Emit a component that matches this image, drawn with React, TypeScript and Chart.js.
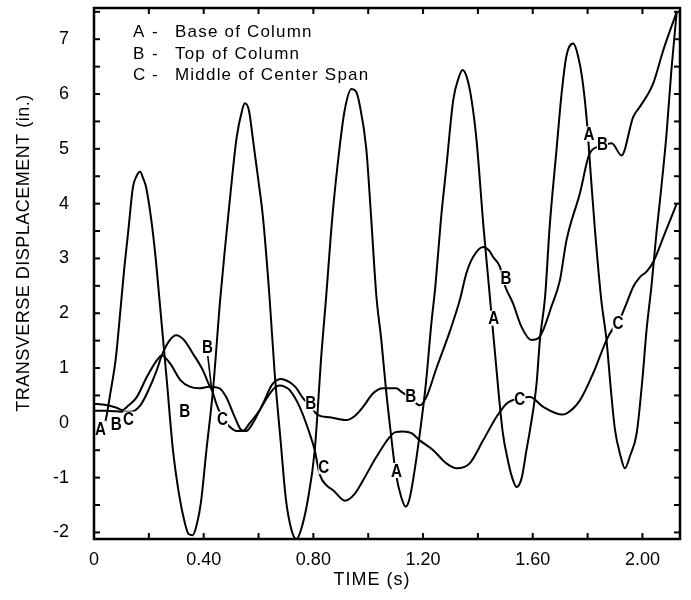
import React, { useEffect, useRef } from "react";
import { Chart, registerables } from "chart.js";

Chart.register(...registerables);

// ---- Data (time in s, displacement in in.) ----
const A_TIME = [0, 0.02, 0.04, 0.06, 0.08, 0.093, 0.11, 0.125, 0.142, 0.155, 0.168, 0.18, 0.19, 0.209, 0.225, 0.245, 0.265, 0.288, 0.31, 0.33, 0.345, 0.36, 0.375, 0.39, 0.41, 0.434, 0.46, 0.48, 0.5, 0.52, 0.54, 0.55, 0.565, 0.58, 0.6, 0.616, 0.64, 0.659, 0.68, 0.7, 0.72, 0.738, 0.755, 0.78, 0.805, 0.83, 0.845, 0.87, 0.896, 0.914, 0.939, 0.955, 0.969, 0.993, 1.01, 1.03, 1.048, 1.065, 1.085, 1.1, 1.12, 1.137, 1.15, 1.165, 1.188, 1.21, 1.23, 1.245, 1.265, 1.285, 1.31, 1.33, 1.344, 1.36, 1.377, 1.395, 1.42, 1.44, 1.46, 1.49, 1.51, 1.525, 1.541, 1.56, 1.577, 1.59, 1.614, 1.626, 1.645, 1.662, 1.687, 1.705, 1.723, 1.748, 1.765, 1.78, 1.796, 1.812, 1.827, 1.85, 1.869, 1.885, 1.9, 1.92, 1.936, 1.955, 1.979, 2.0, 2.015, 2.033, 2.052, 2.064, 2.088, 2.105, 2.125];
const A_DISP = [-0.05, -0.1, 0.0, 0.55, 1.2, 1.87, 2.8, 3.5, 4.3, 4.5, 4.58, 4.45, 4.3, 3.7, 3.0, 1.9, 0.8, -0.5, -1.3, -1.8, -2.03, -2.05, -1.85, -1.45, -0.5, 0.6, 2.24, 3.3, 4.3, 5.2, 5.7, 5.83, 5.7, 5.16, 4.4, 3.76, 2.3, 0.9, -0.3, -1.4, -1.95, -2.12, -1.95, -1.4, -0.5, 1.3, 2.2, 3.8, 5.04, 5.7, 6.09, 6.05, 5.8, 5.0, 3.8, 2.3, 1.5, 0.6, -0.3, -0.9, -1.35, -1.53, -1.4, -1.0, -0.2, 0.7, 1.8, 2.5, 3.7, 4.67, 5.89, 6.3, 6.44, 6.3, 5.89, 5.16, 3.6, 2.5, 1.4, -0.15, -0.7, -1.0, -1.17, -1.0, -0.5, -0.13, 0.72, 1.51, 2.3, 3.6, 5.0, 6.0, 6.7, 6.92, 6.7, 6.3, 5.58, 4.5, 3.51, 2.24, 1.51, 0.6, -0.13, -0.6, -0.83, -0.6, -0.19, 0.8, 1.69, 2.5, 3.51, 4.06, 5.28, 6.4, 7.5];

const B_TIME = [0, 0.04, 0.08, 0.104, 0.12, 0.156, 0.193, 0.229, 0.247, 0.278, 0.315, 0.349, 0.385, 0.42, 0.458, 0.482, 0.513, 0.537, 0.555, 0.58, 0.616, 0.65, 0.683, 0.71, 0.735, 0.762, 0.79, 0.817, 0.86, 0.92, 0.95, 0.981, 1.018, 1.054, 1.103, 1.12, 1.155, 1.188, 1.212, 1.249, 1.297, 1.334, 1.358, 1.383, 1.419, 1.44, 1.455, 1.48, 1.498, 1.528, 1.559, 1.595, 1.62, 1.638, 1.668, 1.699, 1.723, 1.772, 1.808, 1.85, 1.888, 1.924, 1.966, 1.991, 2.039, 2.076, 2.125];
const B_DISP = [0.35, 0.33, 0.28, 0.23, 0.29, 0.47, 0.84, 1.14, 1.23, 1.08, 0.78, 0.66, 0.63, 0.66, 0.63, 0.47, 0.11, -0.13, -0.15, 0.0, 0.35, 0.7, 0.8, 0.75, 0.65, 0.45, 0.3, 0.14, 0.1, 0.05, 0.12, 0.29, 0.54, 0.63, 0.63, 0.57, 0.45, 0.32, 0.47, 1.0, 1.66, 2.24, 2.73, 3.03, 3.21, 3.15, 3.03, 2.85, 2.51, 2.18, 1.75, 1.51, 1.54, 1.69, 2.12, 2.6, 3.33, 4.19, 4.92, 5.05, 5.1, 4.88, 5.58, 5.77, 6.19, 6.8, 7.5];

const C_TIME = [0, 0.04, 0.08, 0.104, 0.132, 0.169, 0.199, 0.229, 0.247, 0.275, 0.3, 0.312, 0.33, 0.36, 0.397, 0.42, 0.432, 0.446, 0.47, 0.495, 0.52, 0.543, 0.567, 0.604, 0.63, 0.659, 0.677, 0.695, 0.713, 0.75, 0.786, 0.805, 0.823, 0.85, 0.872, 0.915, 0.95, 0.981, 1.03, 1.078, 1.1, 1.127, 1.158, 1.188, 1.237, 1.285, 1.322, 1.37, 1.419, 1.468, 1.504, 1.53, 1.553, 1.59, 1.638, 1.687, 1.705, 1.723, 1.772, 1.82, 1.869, 1.89, 1.911, 1.942, 1.966, 1.991, 2.015, 2.039, 2.082, 2.125];
const C_DISP = [0.22, 0.22, 0.21, 0.2, 0.2, 0.32, 0.6, 0.96, 1.23, 1.5, 1.6, 1.58, 1.5, 1.27, 0.96, 0.69, 0.57, 0.35, 0.07, -0.07, -0.15, -0.15, -0.01, 0.23, 0.45, 0.64, 0.68, 0.66, 0.6, 0.29, -0.19, -0.5, -0.94, -1.15, -1.23, -1.42, -1.3, -1.05, -0.62, -0.26, -0.17, -0.16, -0.19, -0.32, -0.5, -0.74, -0.83, -0.74, -0.32, 0.11, 0.35, 0.42, 0.45, 0.47, 0.29, 0.17, 0.15, 0.17, 0.41, 0.9, 1.51, 1.7, 1.82, 2.18, 2.48, 2.66, 2.76, 2.93, 3.46, 4.0];

// Curve marker letters placed along the curves
const MARK_TEXT = ["A", "B", "C", "B", "B", "C", "B", "C", "A", "B", "A", "B", "C", "C", "A", "B"];
const MARK_TIME = [0.024, 0.081, 0.126, 0.331, 0.414, 0.469, 0.79, 0.838, 1.103, 1.155, 1.458, 1.502, 1.553, 1.911, 1.805, 1.854];
const MARK_DISP = [-0.1, -0.01, 0.07, 0.22, 1.38, 0.07, 0.36, -0.8, -0.87, 0.49, 1.91, 2.65, 0.43, 1.82, 5.27, 5.1];

// Leader line from the upper "B" marker to its curve
const LEADER_TIME = [0.415, 0.428];
const LEADER_DISP = [1.22, 0.66];

// Axis ticks
const X_LABEL_TICKS = [0, 0.4, 0.8, 1.2, 1.6, 2.0];
const X_MINOR_TICKS = [0, 0.2, 0.4, 0.6, 0.8, 1.0, 1.2, 1.4, 1.6, 1.8, 2.0];
const Y_LABEL_TICKS = [-2, -1, 0, 1, 2, 3, 4, 5, 6, 7];
const Y_MINOR_TICKS = [-2, -1.5, -1, -0.5, 0, 0.5, 1, 1.5, 2, 2.5, 3, 3.5, 4, 4.5, 5, 5.5, 6, 6.5, 7, 7.5];

const LEGEND_KEYS = ["A", "B", "C"];
const LEGEND_TEXT = ["Base of Column", "Top of Column", "Middle of Center Span"];

const X_TITLE = "TIME (s)";
const Y_TITLE = "TRANSVERSE DISPLACEMENT (in.)";

const FONT = "'Liberation Sans', Arial, Helvetica, sans-serif";

function toPoints(t: number[], v: number[]) {
  return t.map((tt, i) => ({ x: tt, y: v[i] }));
}

const overlayPlugin = {
  id: "overlay",
  afterDatasetsDraw(chart: any) {
    const { ctx, chartArea: ca, scales } = chart;
    const x = scales.x;
    const y = scales.y;
    ctx.save();
    ctx.strokeStyle = "#000";
    ctx.lineWidth = 2;
    const seg = (x1: number, y1: number, x2: number, y2: number) => {
      ctx.beginPath();
      ctx.moveTo(x1, y1);
      ctx.lineTo(x2, y2);
      ctx.stroke();
    };
    const TL = 6;
    X_MINOR_TICKS.forEach((v) => {
      const px = x.getPixelForValue(v);
      seg(px, ca.bottom, px, ca.bottom - TL);
      seg(px, ca.top, px, ca.top + TL);
    });
    Y_MINOR_TICKS.forEach((v) => {
      const py = y.getPixelForValue(v);
      seg(ca.left, py, ca.left + TL, py);
      seg(ca.right, py, ca.right - TL, py);
    });

    // leader line
    ctx.lineWidth = 1.6;
    seg(
      x.getPixelForValue(LEADER_TIME[0]),
      y.getPixelForValue(LEADER_DISP[0]),
      x.getPixelForValue(LEADER_TIME[1]),
      y.getPixelForValue(LEADER_DISP[1])
    );

    // curve markers
    MARK_TEXT.forEach((txt, i) => {
      const px = x.getPixelForValue(MARK_TIME[i]);
      const py = y.getPixelForValue(MARK_DISP[i]);
      ctx.fillStyle = "#fff";
      ctx.fillRect(px - 5.5, py - 7.5, 11, 15);
      ctx.save();
      ctx.translate(px, py);
      ctx.scale(0.8, 1);
      ctx.fillStyle = "#000";
      ctx.font = `bold 19px ${FONT}`;
      ctx.textAlign = "center";
      ctx.textBaseline = "middle";
      ctx.fillText(txt, 0, 1);
      ctx.restore();
    });

    // frame
    ctx.lineWidth = 2.5;
    ctx.strokeRect(ca.left, ca.top, ca.right - ca.left, ca.bottom - ca.top);
    ctx.restore();
  },
  afterDraw(chart: any) {
    const { ctx, chartArea: ca } = chart;
    ctx.save();
    ctx.fillStyle = "#000";
    ctx.textBaseline = "middle";
    // legend text inside plot
    ctx.font = `17px ${FONT}`;
    const rowY = [32.5, 54, 75.5];
    LEGEND_KEYS.forEach((k, i) => {
      ctx.textAlign = "left";
      (ctx as any).letterSpacing = "0px";
      ctx.fillText(k, ca.left + 39, rowY[i]);
      ctx.fillText("-", ca.left + 58, rowY[i]);
      (ctx as any).letterSpacing = "1.2px";
      ctx.fillText(LEGEND_TEXT[i], ca.left + 81, rowY[i]);
    });
    // axis titles
    ctx.font = `18px ${FONT}`;
    (ctx as any).letterSpacing = "1px";
    ctx.textAlign = "center";
    ctx.fillText(X_TITLE, 372, 580);
    ctx.save();
    ctx.translate(24, 253);
    ctx.rotate(-Math.PI / 2);
    (ctx as any).letterSpacing = "0.5px";
    ctx.fillText(Y_TITLE, 0, 0);
    ctx.restore();
    ctx.restore();
  },
};

export default function App() {
  const ref = useRef<HTMLCanvasElement | null>(null);
  useEffect(() => {
    if (!ref.current) return;
    const lineStyle = {
      borderColor: "#000",
      borderWidth: 2,
      pointRadius: 0,
      fill: false,
      cubicInterpolationMode: "monotone" as const,
    };
    const chart = new Chart(ref.current, {
      type: "line",
      data: {
        datasets: [
          { label: "A - Base of Column", data: toPoints(A_TIME, A_DISP), ...lineStyle },
          { label: "B - Top of Column", data: toPoints(B_TIME, B_DISP), ...lineStyle },
          { label: "C - Middle of Center Span", data: toPoints(C_TIME, C_DISP), ...lineStyle },
        ],
      },
      options: {
        animation: false,
        responsive: false,
        maintainAspectRatio: false,
        layout: { padding: { top: 8, right: 11, left: 0, bottom: 0 } },
        plugins: { legend: { display: false }, tooltip: { enabled: false }, title: { display: false } },
        scales: {
          x: {
            type: "linear",
            min: 0,
            max: 2.137,
            grid: { display: false },
            border: { display: false },
            afterBuildTicks: (s: any) => {
              s.ticks = X_LABEL_TICKS.map((v) => ({ value: v }));
            },
            afterFit: (s: any) => {
              s.height = 61;
              s.paddingLeft = 0;
              s.paddingRight = 0;
              s.paddingTop = 0;
              s.paddingBottom = 0;
            },
            ticks: {
              color: "#000",
              padding: 2,
              maxRotation: 0,
              autoSkip: false,
              font: { family: FONT, size: 18 },
              callback: (v: any) => (Number(v) === 0 ? "0" : Number(v).toFixed(2)),
            },
          },
          y: {
            type: "linear",
            min: -2.12,
            max: 7.57,
            grid: { display: false },
            border: { display: false },
            afterBuildTicks: (s: any) => {
              s.ticks = Y_LABEL_TICKS.map((v) => ({ value: v }));
            },
            afterFit: (s: any) => {
              s.width = 94;
              s.paddingLeft = 0;
              s.paddingRight = 0;
              s.paddingTop = 0;
              s.paddingBottom = 0;
            },
            ticks: {
              color: "#000",
              padding: 17,
              autoSkip: false,
              font: { family: FONT, size: 18 },
              callback: (v: any) => String(v),
            },
          },
        },
      },
      plugins: [overlayPlugin],
    });
    return () => chart.destroy();
  }, []);
  return (
    <div style={{ position: "fixed", left: 0, top: 0, width: 691, height: 600, background: "#fff" }}>
      <canvas ref={ref} width={691} height={600} style={{ display: "block" }} />
    </div>
  );
}
